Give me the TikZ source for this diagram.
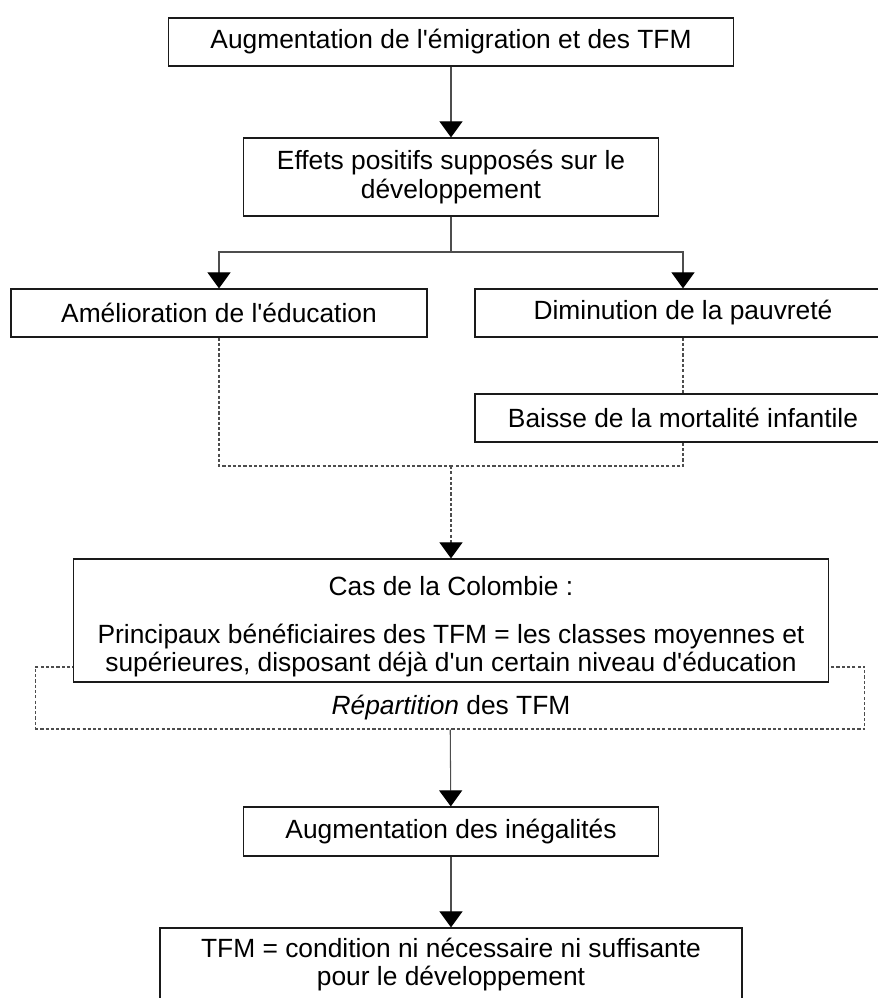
\documentclass[tikz,border=0pt]{standalone}
\usepackage{fontspec}
\setmainfont{Liberation Sans}
\usetikzlibrary{arrows.meta,positioning}
\definecolor{flowink}{HTML}{1A1A1A}
\definecolor{flowgray}{HTML}{4D4D4D}
\newcommand{\apos}{\textquotesingle}
\tikzset{
  flowbox/.style={draw=flowink,rectangle,fill=white,line width=0.7pt,
    minimum height=0.96cm,inner sep=0pt,align=center,
    font=\fontsize{15}{16}\selectfont},
  flowdashbox/.style={draw=flowgray,rectangle,line width=0.6pt,
    dash pattern=on 1.8pt off 1.2pt,inner sep=0pt},
  flowedge/.style={draw=flowgray,line width=0.6pt},
  flowarrow/.style={draw=flowgray,line width=0.6pt,
    -{Triangle[length=0.32cm,width=0.46cm,color=black]}},
  flowdash/.style={draw=flowgray,line width=0.6pt,dash pattern=on 1.8pt off 1.2pt},
  flowdasharrow/.style={flowdash,-{Triangle[length=0.32cm,width=0.46cm,color=black]}},
}

\begin{document}
\begin{tikzpicture}[x=0.02cm,y=-0.02cm]
  \useasboundingbox (0,0) rectangle (878,998);
  \clip (0,0) rectangle (878,998);
  \node[flowbox,minimum width=11.3cm] (top) at (451,42) {Augmentation de l\apos émigration et des TFM};
  \node[flowbox,minimum width=8.3cm,minimum height=1.56cm] (effets) at (451,177)
    {Effets positifs supposés sur le\\développement};
  \node[flowbox,minimum width=8.32cm] (educ) at (219,313) {Amélioration de l\apos éducation};
  \node[flowbox,minimum width=8.32cm] (pauv) at (683,313) {Diminution de la pauvreté};
  \node[flowbox,minimum width=8.32cm] (baisse) at (683,418) {Baisse de la mortalité infantile};
  \coordinate (split) at (451,252);
  \coordinate (join) at (451,466);
  \node[flowdashbox,minimum width=16.6cm,minimum height=1.24cm] (repart) at (450,698) {};
  \node[flowbox,minimum width=15.1cm,minimum height=2.46cm] (colombie) at (451,620.5)
    {\rule{0pt}{18pt}Cas de la Colombie :\\[0.38cm]
     Principaux bénéficiaires des TFM = les classes moyennes et\\
     supérieures, disposant déjà d\apos un certain niveau d\apos éducation};
  \node[font=\fontsize{15}{16}\selectfont,inner sep=0pt] (repartlabel) at (451,708)
    {\textit{Répartition} des TFM};
  \node[flowbox,minimum width=8.3cm,minimum height=0.98cm] (inegal) at (451,831.5)
    {Augmentation des inégalités};
  \node[flowbox,minimum width=11.64cm,minimum height=1.46cm] (final) at (451,964.5)
    {TFM = condition ni nécessaire ni suffisante\\pour le développement};

  \draw[flowarrow] (top) -- (effets);
  \draw[flowedge] (effets) -- (split);
  \draw[flowarrow] (split) -| (educ);
  \draw[flowarrow] (split) -| (pauv);
  \draw[flowdash] (pauv) -- (baisse);
  \draw[flowdash] (educ) |- (join);
  \draw[flowdash] (baisse) |- (join);
  \draw[flowdasharrow] (join) -- (colombie);
  \draw[flowarrow] (repart) -- (inegal);
  \draw[flowarrow] (inegal) -- (final);
\end{tikzpicture}
\end{document}
